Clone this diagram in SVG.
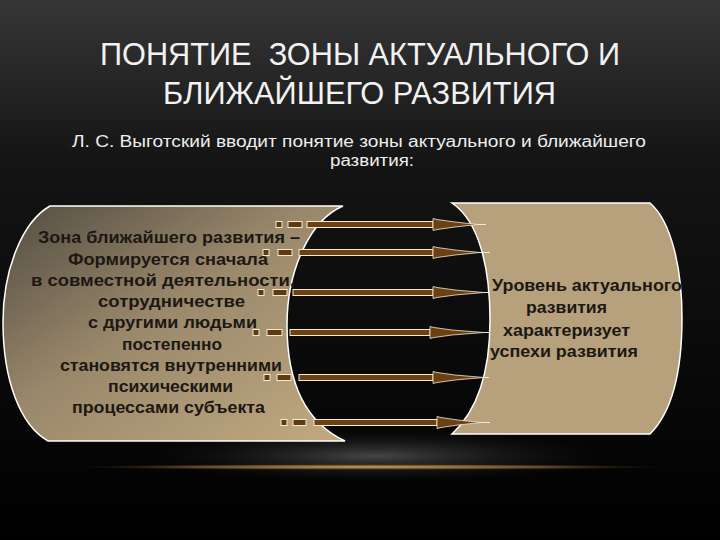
<svg xmlns="http://www.w3.org/2000/svg" width="720" height="540" viewBox="0 0 720 540">
  <defs>
    <linearGradient id="bg" x1="0" y1="0" x2="0" y2="1">
      <stop offset="0" stop-color="#363636"/>
      <stop offset="0.3" stop-color="#141414"/>
      <stop offset="1" stop-color="#000000"/>
    </linearGradient>
    <radialGradient id="glow" cx="0.5" cy="0.5" r="0.5">
      <stop offset="0" stop-color="#4d4d4d" stop-opacity="0.9"/>
      <stop offset="1" stop-color="#1a1a1a" stop-opacity="0"/>
    </radialGradient>
    <radialGradient id="gold" cx="0.5" cy="0.5" r="0.5">
      <stop offset="0" stop-color="#d6a75a"/>
      <stop offset="0.6" stop-color="#8a6530" stop-opacity="0.7"/>
      <stop offset="1" stop-color="#3a2a10" stop-opacity="0"/>
    </radialGradient>
    <linearGradient id="leftFill" x1="0" y1="0.1" x2="0.9" y2="1">
      <stop offset="0" stop-color="#5a5346"/>
      <stop offset="0.45" stop-color="#9a886b"/>
      <stop offset="1" stop-color="#bda77f"/>
    </linearGradient>
    <style>
      .shape { stroke: #ffffff; stroke-width: 1.5; }
      .title { font-family: "Liberation Sans Narrow", "Liberation Sans", Arial, sans-serif; font-size: 32px; fill: #f2f2f2; white-space: pre; }
      .sub { font-family: "Liberation Sans", Arial, sans-serif; font-size: 16px; fill: #eeeeee; }
      .body { font-family: "Liberation Sans", Arial, sans-serif; font-size: 16.5px; font-weight: bold; fill: #1c1813; }
      .box { fill: #5e3a0e; stroke: #f3ead2; stroke-width: 1; }
      .shaft { fill: #6b4112; stroke: #f3ead2; stroke-width: 1; }
      .head { fill: #6b4112; stroke: #f3ead2; stroke-width: 0.8; }
      .tail { stroke: #f3ead2; stroke-width: 1; }
    </style>
  </defs>

  <rect x="0" y="0" width="720" height="540" fill="url(#bg)"/>
  <ellipse cx="375" cy="456" rx="230" ry="26" fill="url(#glow)"/>
  <ellipse cx="370" cy="467" rx="300" ry="3" fill="url(#gold)"/>

  <g id="title">
    <text class="title" x="100" y="65" textLength="520" lengthAdjust="spacingAndGlyphs">ПОНЯТИЕ  ЗОНЫ АКТУАЛЬНОГО И</text>
    <text class="title" x="163" y="104" textLength="393" lengthAdjust="spacingAndGlyphs">БЛИЖАЙШЕГО РАЗВИТИЯ</text>
  </g>

  <g id="subtitle">
    <text class="sub" x="72" y="147" textLength="574" lengthAdjust="spacingAndGlyphs">Л. С. Выготский вводит понятие зоны актуального и ближайшего</text>
    <text class="sub" x="330" y="166" textLength="84" lengthAdjust="spacingAndGlyphs">развития:</text>
  </g>

  <g id="zone-nearest">
    <path class="shape" fill="url(#leftFill)" d="M50,206 L343,206 C310,220 287,270 287,325 C287,375 300,420 345,441 L48,441 C20,425 3,380 3,322 C3,270 22,222 50,206 Z"/>
    <text class="body" x="38" y="243" textLength="262" lengthAdjust="spacingAndGlyphs">Зона ближайшего развития –</text>
    <text class="body" x="68" y="264.5" textLength="200" lengthAdjust="spacingAndGlyphs">Формируется сначала</text>
    <text class="body" x="31" y="285.5" textLength="264" lengthAdjust="spacingAndGlyphs">в совместной деятельности,</text>
    <text class="body" x="98" y="307" textLength="147" lengthAdjust="spacingAndGlyphs">сотрудничестве</text>
    <text class="body" x="88" y="328" textLength="169" lengthAdjust="spacingAndGlyphs">с другими людьми</text>
    <text class="body" x="122" y="349.5" textLength="100" lengthAdjust="spacingAndGlyphs">постепенно</text>
    <text class="body" x="60" y="371" textLength="222" lengthAdjust="spacingAndGlyphs">становятся внутренними</text>
    <text class="body" x="108" y="392" textLength="125" lengthAdjust="spacingAndGlyphs">психическими</text>
    <text class="body" x="72" y="413" textLength="193" lengthAdjust="spacingAndGlyphs">процессами субъекта</text>
  </g>

  <g id="zone-actual">
    <path class="shape" fill="#b6a17c" d="M452,203 L650,203 C672,222 682,270 682,318 C682,370 672,412 650,434 L452,434 C478,410 490,370 490,320 C490,270 480,222 452,203 Z"/>
    <text class="body" x="492" y="290.5" textLength="190" lengthAdjust="spacingAndGlyphs">Уровень актуального</text>
    <text class="body" x="526" y="313" textLength="81" lengthAdjust="spacingAndGlyphs">развития</text>
    <text class="body" x="503" y="336" textLength="127" lengthAdjust="spacingAndGlyphs">характеризует</text>
    <text class="body" x="490" y="357" textLength="148" lengthAdjust="spacingAndGlyphs">успехи развития</text>
  </g>

  <g id="connectors">
    <g transform="translate(0,224.5)">
      <rect class="box" x="276" y="-3" width="6" height="6"/>
      <rect class="box" x="288" y="-3" width="14" height="6"/>
      <rect class="shaft" x="307" y="-3" width="126" height="6"/>
      <polygon class="head" points="433,-6 437,-5 455,-2.5 478,0 455,2.5 437,5 433,6"/>
      <line class="tail" x1="478" y1="0" x2="486" y2="0"/>
    </g>
    <g transform="translate(0,252.5)">
      <rect class="box" x="263" y="-3" width="6" height="6"/>
      <rect class="box" x="278" y="-3" width="14" height="6"/>
      <rect class="shaft" x="299" y="-3" width="134" height="6"/>
      <polygon class="head" points="433,-6 437,-5 455,-2.5 480,0 455,2.5 437,5 433,6"/>
      <line class="tail" x1="480" y1="0" x2="490" y2="0"/>
    </g>
    <g transform="translate(0,292.5)">
      <rect class="box" x="258" y="-3" width="6" height="6"/>
      <rect class="box" x="273" y="-3" width="14" height="6"/>
      <rect class="shaft" x="293" y="-3" width="140" height="6"/>
      <polygon class="head" points="433,-6 437,-5 455,-2.5 484,0 455,2.5 437,5 433,6"/>
      <line class="tail" x1="484" y1="0" x2="489" y2="0"/>
    </g>
    <g transform="translate(0,332.5)">
      <rect class="box" x="253" y="-3" width="6" height="6"/>
      <rect class="box" x="267" y="-3" width="15" height="6"/>
      <rect class="shaft" x="290" y="-3" width="140" height="6"/>
      <polygon class="head" points="430,-6 434,-5 452,-2.5 484,0 452,2.5 434,5 430,6"/>
      <line class="tail" x1="484" y1="0" x2="490" y2="0"/>
    </g>
    <g transform="translate(0,377.5)">
      <rect class="box" x="264" y="-3" width="6" height="6"/>
      <rect class="box" x="277" y="-3" width="14" height="6"/>
      <rect class="shaft" x="299" y="-3" width="134" height="6"/>
      <polygon class="head" points="433,-6 437,-5 455,-2.5 484,0 455,2.5 437,5 433,6"/>
      <line class="tail" x1="484" y1="0" x2="489" y2="0"/>
    </g>
    <g transform="translate(0,422.5)">
      <rect class="box" x="281" y="-3" width="6" height="6"/>
      <rect class="box" x="293" y="-3" width="13" height="6"/>
      <rect class="shaft" x="314" y="-3" width="123" height="6"/>
      <polygon class="head" points="437,-6 441,-5 458,-2.5 481,0 458,2.5 441,5 437,6"/>
      <line class="tail" x1="481" y1="0" x2="490" y2="0"/>
    </g>
  </g>
</svg>
